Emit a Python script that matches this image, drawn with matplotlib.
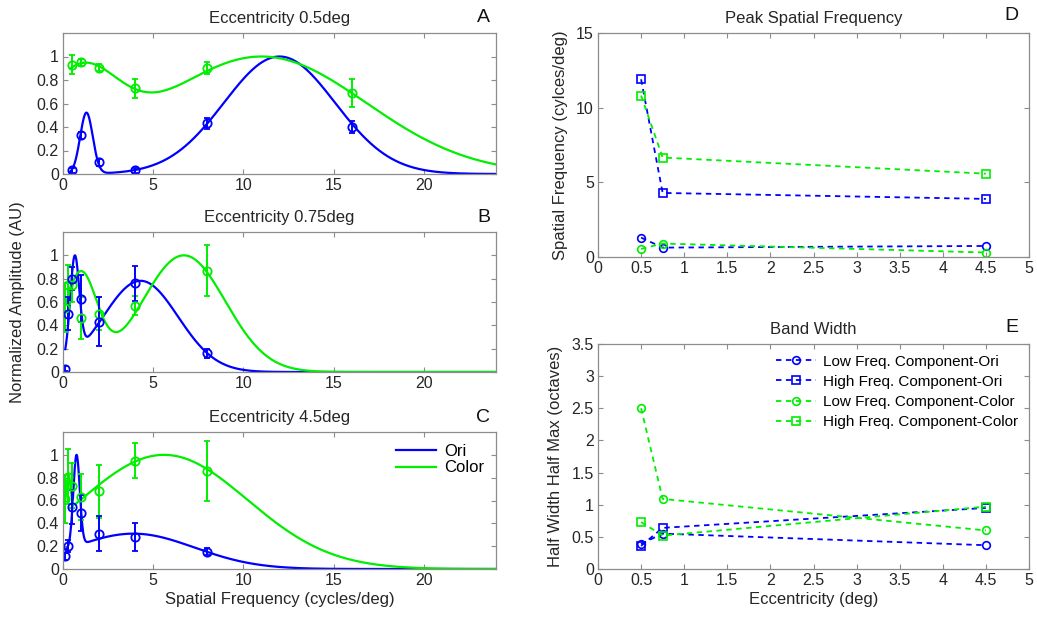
import numpy as np
import matplotlib
matplotlib.use("Agg")
import matplotlib.pyplot as plt

plt.rcParams["font.family"] = ["Liberation Sans", "DejaVu Sans"]
plt.rcParams["font.size"] = 12

BLUE = "#0000ff"
GREEN = "#00ee00"
SPINE = "#8c8c8c"
TXT = "#262626"
FS = 12
TICK_FS = 11.5

# ---- spatial-frequency tuning data (normalized amplitude, mean +/- sem) ----
sf_a = [0.5, 1, 2, 4, 8, 16]
ori_a = [0.03, 0.33, 0.10, 0.03, 0.43, 0.40]
ori_a_err = [0.02, 0.03, 0.03, 0.02, 0.045, 0.05]
col_a = [0.93, 0.95, 0.905, 0.73, 0.90, 0.69]
col_a_err = [0.08, 0.03, 0.03, 0.08, 0.05, 0.12]

sf_bc = [0.125, 0.25, 0.5, 1, 2, 4, 8]
ori_b = [0.03, 0.50, 0.80, 0.63, 0.43, 0.76, 0.16]
ori_b_err = [0.02, 0.14, 0.10, 0.20, 0.21, 0.15, 0.04]
col_b = [0.55, 0.75, 0.75, 0.46, 0.50, 0.57, 0.87]
col_b_err = [0.21, 0.17, 0.15, 0.18, 0.14, 0.08, 0.22]

ori_c = [0.11, 0.20, 0.54, 0.49, 0.31, 0.28, 0.15]
ori_c_err = [0.03, 0.05, 0.15, 0.16, 0.15, 0.12, 0.03]
col_c = [0.61, 0.81, 0.73, 0.63, 0.68, 0.95, 0.86]
col_c_err = [0.21, 0.24, 0.20, 0.20, 0.23, 0.15, 0.26]

# ---- two-component Gaussian fits: (amplitude, centre, sigma) per component ----
fit_ori_a = [(0.52, 1.3, 0.35), (1.00, 12.0, 3.08)]
fit_col_a = [(0.72, 0.8, 2.16), (1.00, 11.0, 5.8)]
fit_ori_b = [(0.83, 0.65, 0.25), (0.78, 4.3, 2.08)]
fit_col_b = [(0.82, 0.95, 0.92), (1.00, 6.7, 2.3)]
fit_ori_c = [(0.80, 0.75, 0.18), (0.31, 3.9, 3.39)]
fit_col_c = [(0.31, 0.30, 0.116), (1.00, 5.6, 4.62)]
fit_start = {"A": 0.4, "B": 0.125, "C": 0.125}

# ---- summary across eccentricities ----
ecc = [0.5, 0.75, 4.5]
peak_low_ori = [1.3, 0.63, 0.74]
peak_high_ori = [11.9, 4.29, 3.89]
peak_low_col = [0.54, 0.90, 0.30]
peak_high_col = [10.81, 6.66, 5.58]

bw_low_ori = [0.39, 0.55, 0.37]
bw_high_ori = [0.36, 0.64, 0.95]
bw_low_col = [2.50, 1.09, 0.60]
bw_high_col = [0.73, 0.52, 0.97]

ecc_ticks = np.arange(0, 5.01, 0.5)
ecc_ticklabels = ["0", "0.5", "1", "1.5", "2", "2.5", "3", "3.5", "4", "4.5", "5"]

W, H = 1037, 617
fig = plt.figure(figsize=(W / 100, H / 100), dpi=100)


def rect(left, top, right, bottom):
    return [left / W, (H - bottom) / H, (right - left) / W, (bottom - top) / H]


def style(ax):
    for s in ax.spines.values():
        s.set_color(SPINE)
        s.set_linewidth(0.9)
    ax.tick_params(direction="in", top=True, right=True, length=3.5,
                   color=SPINE, labelcolor=TXT, width=0.8, pad=3,
                   labelsize=TICK_FS)


def fit_curve(params, x):
    y = np.zeros_like(x)
    for a, mu, s in params:
        y += a * np.exp(-(x - mu) ** 2 / (2 * s ** 2))
    return y / y.max()


def tuning_panel(ax, key, sf, ori, ori_err, col, col_err, fo, fc, title):
    x = np.linspace(fit_start[key], 24, 1500)
    l1, = ax.plot(x, fit_curve(fo, x), color=BLUE, lw=1.6, label="Ori")
    l2, = ax.plot(x, fit_curve(fc, x), color=GREEN, lw=1.6, label="Color")
    ax.errorbar(sf, col, yerr=col_err, fmt="o", color=GREEN, mfc="none",
                ms=6, mew=1.3, elinewidth=1.4, capsize=2.5, capthick=1.2)
    ax.errorbar(sf, ori, yerr=ori_err, fmt="o", color=BLUE, mfc="none",
                ms=6, mew=1.3, elinewidth=1.4, capsize=2.5, capthick=1.2)
    ax.set_xlim(0, 24)
    ax.set_ylim(0, 1.2)
    ax.set_xticks([0, 5, 10, 15, 20])
    ax.set_yticks([0, 0.2, 0.4, 0.6, 0.8, 1.0])
    ax.set_yticklabels(["0", "0.2", "0.4", "0.6", "0.8", "1"])
    ax.set_title(title, fontsize=FS, color=TXT, pad=7)
    style(ax)
    return l1, l2


axA = fig.add_axes(rect(63, 33, 496, 174))
tuning_panel(axA, "A", sf_a, ori_a, ori_a_err, col_a, col_a_err,
             fit_ori_a, fit_col_a, "Eccentricity 0.5deg")
axB = fig.add_axes(rect(63, 232, 496, 372))
tuning_panel(axB, "B", sf_bc, ori_b, ori_b_err, col_b, col_b_err,
             fit_ori_b, fit_col_b, "Eccentricity 0.75deg")
axB.set_ylabel("Normalized Amplitude (AU)", color=TXT, labelpad=8, fontsize=FS)
axC = fig.add_axes(rect(63, 432, 496, 569))
hl = tuning_panel(axC, "C", sf_bc, ori_c, ori_c_err, col_c, col_c_err,
                  fit_ori_c, fit_col_c, "Eccentricity 4.5deg")
axC.set_xlabel("Spatial Frequency (cycles/deg)", color=TXT, labelpad=3, fontsize=FS)
axC.legend(handles=list(hl), loc="upper right", frameon=False,
           handlelength=2.4, fontsize=FS, borderaxespad=0.3,
           labelspacing=0.1, handletextpad=0.5)

# ---- peak spatial frequency ----
axD = fig.add_axes(rect(598, 33, 1029, 257))
dash = (0, (3, 2.5))
for y, c, m in [(peak_low_ori, BLUE, "o"), (peak_high_ori, BLUE, "s"),
                (peak_low_col, GREEN, "o"), (peak_high_col, GREEN, "s")]:
    axD.plot(ecc, y, color=c, ls=dash, lw=1.3, marker=m, mfc="none",
             ms=5.5, mew=1.2)
axD.set_xlim(0, 5)
axD.set_ylim(0, 15)
axD.set_xticks(ecc_ticks)
axD.set_xticklabels(ecc_ticklabels)
axD.set_yticks([0, 5, 10, 15])
axD.set_ylabel("Spatial Frequency (cylces/deg)", color=TXT, labelpad=6, fontsize=FS)
axD.set_title("Peak Spatial Frequency", fontsize=FS, color=TXT, pad=7)
style(axD)

# ---- bandwidth ----
axE = fig.add_axes(rect(598, 344, 1029, 569))
labels = ["Low Freq. Component-Ori", "High Freq. Component-Ori",
          "Low Freq. Component-Color", "High Freq. Component-Color"]
for y, c, m, lab in [(bw_low_ori, BLUE, "o", labels[0]),
                     (bw_high_ori, BLUE, "s", labels[1]),
                     (bw_low_col, GREEN, "o", labels[2]),
                     (bw_high_col, GREEN, "s", labels[3])]:
    axE.plot(ecc, y, color=c, ls=dash, lw=1.3, marker=m, mfc="none",
             ms=5.5, mew=1.2, label=lab)
axE.set_xlim(0, 5)
axE.set_ylim(0, 3.5)
axE.set_xticks(ecc_ticks)
axE.set_xticklabels(ecc_ticklabels)
axE.set_yticks(np.arange(0, 3.51, 0.5))
axE.set_yticklabels(["0", "0.5", "1", "1.5", "2", "2.5", "3", "3.5"])
axE.set_ylabel("Half Width Half Max (octaves)", color=TXT, labelpad=6, fontsize=FS)
axE.set_xlabel("Eccentricity (deg)", color=TXT, labelpad=3, fontsize=FS)
axE.set_title("Band Width", fontsize=FS, color=TXT, pad=7)
axE.legend(loc="upper right", frameon=False, fontsize=11, handlelength=2.6,
           borderaxespad=0.3, labelspacing=0.4, handletextpad=0.5)
style(axE)

# panel letters
for lx, ly, s in [(490, 18, "A"), (490, 217, "B"), (490, 418, "C"),
                  (1018, 16, "D"), (1018, 328, "E")]:
    fig.text(lx / W, (H - ly) / H, s, fontsize=14, ha="right", va="center",
             color="#111111")

fig.savefig("out.png", dpi=100)
